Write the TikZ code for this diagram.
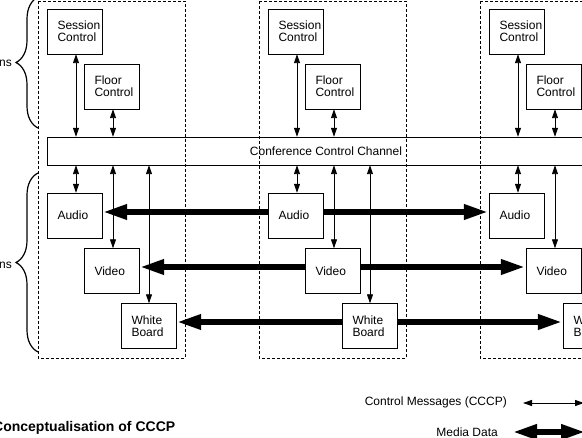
\documentclass[tikz,border=0pt]{standalone}
\usepackage{fontspec}
\setmainfont{Liberation Sans}
\usetikzlibrary{arrows.meta}
\usetikzlibrary{backgrounds}
\usetikzlibrary{decorations.pathreplacing}

\begin{document}
\begin{tikzpicture}[x=1pt, y=-1pt, font=\fontsize{12}{12}\selectfont,
  box/.style={draw, fill=white, minimum width=55, minimum height=45, text width=34, inner xsep=10.5, align=left},
  ctrl/.style={line width=.9pt, {Triangle[length=9pt,width=6pt]}-{Triangle[length=9pt,width=6pt]}},
  media/.style={line width=6.5pt, {Triangle[length=25pt,width=14pt]}-{Triangle[length=25pt,width=14pt]}},
  brc/.style={decorate, decoration={brace, amplitude=22pt}, line width=1.2pt}]
\useasboundingbox (0,0) rectangle (582,438);
\clip (0,0) rectangle (582,438);
% one dashed column per site
\foreach \x [count=\i] in {0,221,442} {
 \draw[dash pattern=on 3pt off 2pt] (38+\x,1) rectangle (185+\x,358);
 \node[box] (sc\i) at (74.5+\x,31.5) {Session\\Control};
 \node[box] (fc\i) at (111.5+\x,86.5) {Floor\\Control};
 \node[box] (au\i) at (74.5+\x,215.5) {Audio};
 \node[box] (vi\i) at (111.5+\x,271) {Video};
 \node[box] (wb\i) at (148.5+\x,326) {White\\Board};
}
\node[draw, minimum width=558, minimum height=28, inner sep=0] (ccc) at (326,151) {Conference Control Channel};
\foreach \i in {1,2,3} {
 \draw[ctrl] ([xshift=1.5]sc\i.south) -- ([xshift=1.5]sc\i.south |- ccc.north);
 \draw[ctrl] ([xshift=1.5]fc\i.south) -- ([xshift=1.5]fc\i.south |- ccc.north);
 \draw[ctrl] ([xshift=1.5]ccc.south -| au\i.north) -- ([xshift=1.5]au\i.north);
 \draw[ctrl] ([xshift=1.5]ccc.south -| vi\i.north) -- ([xshift=1.5]vi\i.north);
 \draw[ctrl] ([xshift=.5]ccc.south -| wb\i.north) -- ([xshift=.5]wb\i.north);
}
\begin{scope}[on background layer]
\draw[media] ([yshift=3.5pt]au1.east) -- ([yshift=3.5pt]au3.west);
\draw[media] ([yshift=4pt]vi1.east) -- ([yshift=4pt]vi3.west);
\draw[media] ([yshift=4pt]wb1.east) -- ([yshift=4pt]wb3.west);
\end{scope}
% braces on the left
\draw[brc] (38,128) -- (38,-3);
\node[anchor=east, inner sep=0] (ap) at (12,63) {ns};
\draw[brc] (38,352) -- (38,173);
\node[anchor=east, inner sep=0] (md) at (12,265) {ns};
% legend
\node[anchor=east, inner sep=0] (lgc) at (507,402) {Control Messages (CCCP)};
\coordinate (lgcA) at (523,403);
\coordinate (lgcB) at (584,403);
\draw[ctrl] (lgcA) -- (lgcB);
\node[anchor=east, inner sep=0] (lgm) at (498,432) {Media Data};
\coordinate (lgmA) at (512,432);
\coordinate (lgmB) at (586,432);
\draw[media] (lgmA) -- (lgmB);
\node[anchor=west, inner sep=0, font=\fontsize{14}{14}\selectfont\bfseries] (ttl) at (-7,428) {Conceptualisation of CCCP};
\end{tikzpicture}
\end{document}
